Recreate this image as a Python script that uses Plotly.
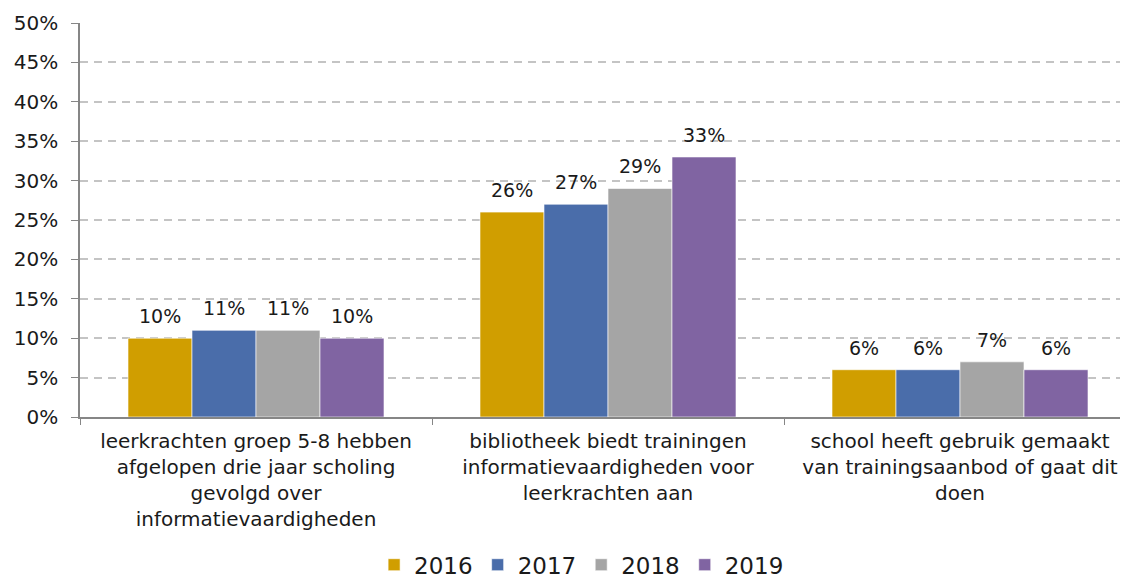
import plotly.graph_objects as go

categories = [
    "leerkrachten groep 5-8 hebben<br>afgelopen drie jaar scholing<br>gevolgd over<br>informatievaardigheden",
    "bibliotheek biedt trainingen<br>informatievaardigheden voor<br>leerkrachten aan",
    "school heeft gebruik gemaakt<br>van trainingsaanbod of gaat dit<br>doen",
]
years = ["2016", "2017", "2018", "2019"]
values = {
    "2016": [0.10, 0.26, 0.06],
    "2017": [0.11, 0.27, 0.06],
    "2018": [0.11, 0.29, 0.07],
    "2019": [0.10, 0.33, 0.06],
}
colors = {"2016": "#D09E00", "2017": "#4A6DAA", "2018": "#A5A5A5", "2019": "#8064A2"}

FONT = "Verdana, DejaVu Sans, sans-serif"
BAR_PX = 64  # pixel width of one bar within a group

fig = go.Figure()
for i, y in enumerate(years):
    fig.add_trace(go.Bar(
        name=y,
        x=categories,
        y=values[y],
        marker=dict(color=colors[y], line=dict(color="white", width=0.6)),
    ))
    for cat, v in zip(categories, values[y]):
        fig.add_annotation(
            x=cat, y=v, xref="x", yref="y",
            text=f"{v:.0%}", showarrow=False,
            xshift=(i - 1.5) * BAR_PX, yshift=22, yanchor="middle",
            font=dict(family=FONT, size=19, color="#1a1a1a"),
        )

fig.update_layout(
    width=1128, height=583,
    margin=dict(l=72, r=0, t=15, b=174),
    paper_bgcolor="white", plot_bgcolor="white",
    barmode="group", bargap=0.2727, bargroupgap=0,
    font=dict(family=FONT, size=18, color="#1a1a1a"),
    legend=dict(orientation="h", x=0.475, xanchor="center", yref="container",
                y=0.045, yanchor="middle",
                font=dict(size=23), itemwidth=30, traceorder="normal"),
    showlegend=True,
)
fig.update_xaxes(
    range=[-0.5, 2.5], tickson="boundaries", ticks="outside", ticklen=6,
    tickcolor="#868686", showline=True, linecolor="#868686", linewidth=1.5,
    tickfont=dict(size=20), showgrid=False, automargin=False, ticklabelstandoff=5,
)
fig.update_yaxes(
    range=[0, 0.5], dtick=0.05, tickformat=".0%", ticks="outside", ticklen=7,
    tickcolor="#868686", showline=True, linecolor="#868686", linewidth=1.5,
    showgrid=True, gridcolor="#C4C4C4", griddash="8px,6px", gridwidth=1.6,
    tickfont=dict(size=20), zeroline=False, automargin=False, ticklabelstandoff=9,
)

fig.write_html("out.html")
